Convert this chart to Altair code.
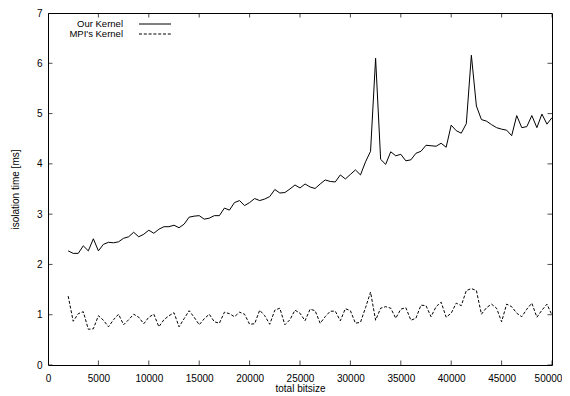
import altair as alt
import pandas as pd

bits = [2000, 2500, 3000, 3500, 4000, 4500, 5000, 5500, 6000, 6500,
        7000, 7500, 8000, 8500, 9000, 9500, 10000, 10500, 11000, 11500,
        12000, 12500, 13000, 13500, 14000, 14500, 15000, 15500, 16000, 16500,
        17000, 17500, 18000, 18500, 19000, 19500, 20000, 20500, 21000, 21500,
        22000, 22500, 23000, 23500, 24000, 24500, 25000, 25500, 26000, 26500,
        27000, 27500, 28000, 28500, 29000, 29500, 30000, 30500, 31000, 31500,
        32000, 32500, 33000, 33500, 34000, 34500, 35000, 35500, 36000, 36500,
        37000, 37500, 38000, 38500, 39000, 39500, 40000, 40500, 41000, 41500,
        42000, 42500, 43000, 43500, 44000, 44500, 45000, 45500, 46000, 46500,
        47000, 47500, 48000, 48500, 49000, 49500, 50000]

our_kernel = [2.27, 2.22, 2.22, 2.37, 2.27, 2.51, 2.27, 2.40, 2.44, 2.43,
              2.45, 2.52, 2.55, 2.64, 2.55, 2.60, 2.68, 2.62, 2.70, 2.75,
              2.75, 2.78, 2.73, 2.80, 2.94, 2.96, 2.97, 2.90, 2.92, 2.97,
              2.97, 3.12, 3.08, 3.23, 3.27, 3.17, 3.23, 3.31, 3.27, 3.30,
              3.35, 3.49, 3.42, 3.43, 3.50, 3.58, 3.52, 3.60, 3.54, 3.51,
              3.60, 3.68, 3.65, 3.64, 3.78, 3.70, 3.79, 3.88, 3.78, 4.04,
              4.25, 6.10, 4.09, 3.99, 4.24, 4.16, 4.19, 4.06, 4.08, 4.21,
              4.25, 4.37, 4.36, 4.35, 4.41, 4.33, 4.77, 4.66, 4.61, 4.80,
              6.16, 5.15, 4.88, 4.85, 4.78, 4.72, 4.69, 4.67, 4.56, 4.96,
              4.72, 4.74, 4.96, 4.72, 4.99, 4.79, 4.92]

mpi_kernel = [1.37, 0.87, 1.02, 1.06, 0.71, 0.72, 0.98, 0.89, 0.76, 0.90,
              1.01, 0.80, 0.90, 1.01, 0.95, 0.82, 0.95, 1.01, 0.76, 0.90,
              0.98, 1.04, 0.76, 0.92, 1.08, 0.95, 0.80, 0.92, 1.01, 0.86,
              0.83, 1.05, 1.02, 0.96, 1.05, 1.01, 0.81, 0.82, 1.09, 0.98,
              0.81, 1.09, 1.13, 0.80, 0.90, 1.09, 1.03, 0.88, 1.11, 1.08,
              0.83, 0.96, 1.07, 1.07, 0.88, 1.12, 1.08, 0.83, 0.85, 1.14,
              1.45, 0.89, 1.13, 1.16, 1.13, 0.93, 1.11, 1.14, 0.89, 0.93,
              1.19, 1.18, 0.96, 1.16, 1.25, 0.95, 1.03, 1.23, 1.18, 1.48,
              1.52, 1.48, 1.01, 1.14, 1.21, 1.13, 0.86, 1.21, 1.16, 1.03,
              0.96, 1.11, 1.23, 0.95, 1.09, 1.21, 0.99]

x_ticks = [0, 5000, 10000, 15000, 20000, 25000, 30000, 35000, 40000, 45000, 50000]
y_ticks = [0, 1, 2, 3, 4, 5, 6, 7]
legend_labels = ["Our Kernel", "MPI's Kernel"]

FONT = "Liberation Sans"

df = pd.DataFrame({"bits": bits, "our": our_kernel, "mpi": mpi_kernel})
xt = pd.DataFrame({"v": x_ticks})
yt = pd.DataFrame({"v": y_ticks})

xscale = alt.Scale(domain=[0, 50000], nice=False, zero=False)
yscale = alt.Scale(domain=[0, 7], nice=False)

xaxis = alt.Axis(values=x_ticks, format="d", ticks=False, domain=False, grid=False,
                 labelPadding=8, title="total bitsize", titleY=23,
                 titleBaseline="middle", labelFlush=False,
                 labelOffset={"condition": {"test": "datum.value == 50000", "value": -4},
                              "value": 0})
yaxis = alt.Axis(values=y_ticks, format="d", ticks=False, domain=False, grid=False,
                 labelPadding=6, title="isolation time [ms]", titleX=-33,
                 titleBaseline="middle")

our_line = alt.Chart(df).mark_line(color="black", strokeWidth=1).encode(
    x=alt.X("bits:Q", scale=xscale, axis=xaxis),
    y=alt.Y("our:Q", scale=yscale, axis=yaxis),
)
mpi_line = alt.Chart(df).mark_line(color="black", strokeWidth=1, strokeDash=[3, 1.8]).encode(
    x=alt.X("bits:Q", scale=xscale, axis=xaxis),
    y=alt.Y("mpi:Q", scale=yscale, axis=yaxis),
)

tick_style = dict(color="black", thickness=1, size=9, clip=True)
xt_bottom = alt.Chart(xt).mark_tick(orient="vertical", **tick_style).encode(
    x=alt.X("v:Q", scale=xscale, axis=xaxis),
    y=alt.YDatum(0, type="quantitative", scale=yscale, axis=yaxis))
xt_top = alt.Chart(xt).mark_tick(orient="vertical", **tick_style).encode(
    x=alt.X("v:Q", scale=xscale, axis=xaxis),
    y=alt.YDatum(7, type="quantitative", scale=yscale, axis=yaxis))
yt_left = alt.Chart(yt).mark_tick(orient="horizontal", **tick_style).encode(
    y=alt.Y("v:Q", scale=yscale, axis=yaxis),
    x=alt.XDatum(0, type="quantitative", scale=xscale, axis=xaxis))
yt_right = alt.Chart(yt).mark_tick(orient="horizontal", **tick_style).encode(
    y=alt.Y("v:Q", scale=yscale, axis=yaxis),
    x=alt.XDatum(50000, type="quantitative", scale=xscale, axis=xaxis))

leg1 = pd.DataFrame({"label": [legend_labels[0]]})
leg2 = pd.DataFrame({"label": [legend_labels[1]]})
leg_text1 = alt.Chart(leg1).mark_text(align="right", baseline="middle", font=FONT,
                                      fontSize=9.5, color="black").encode(
    text="label:N", x=alt.value(75), y=alt.value(11))
leg_text2 = alt.Chart(leg2).mark_text(align="right", baseline="middle", font=FONT,
                                      fontSize=9.5, color="black").encode(
    text="label:N", x=alt.value(75), y=alt.value(21))
leg_line1 = alt.Chart(leg1).mark_rule(color="black", strokeWidth=1).encode(
    x=alt.value(91), x2=alt.value(123), y=alt.value(11))
leg_line2 = alt.Chart(leg2).mark_rule(color="black", strokeWidth=1, strokeDash=[3, 1.8]).encode(
    x=alt.value(91), x2=alt.value(123), y=alt.value(21))

chart = alt.layer(
    our_line, mpi_line, xt_bottom, xt_top, yt_left, yt_right,
    leg_text1, leg_text2, leg_line1, leg_line2,
).properties(
    width=504, height=352,
    autosize=alt.AutoSizeParams(type="none"),
    padding={"left": 40, "top": 5, "right": 10, "bottom": 27},
    background="white",
).configure_view(
    stroke="black", strokeWidth=1
).configure_axis(
    labelFont=FONT, labelFontSize=10, labelColor="black",
    titleFont=FONT, titleFontSize=10, titleFontWeight="normal", titleColor="black",
)

chart.save("out.html", embed_options={"renderer": "svg", "actions": False})
